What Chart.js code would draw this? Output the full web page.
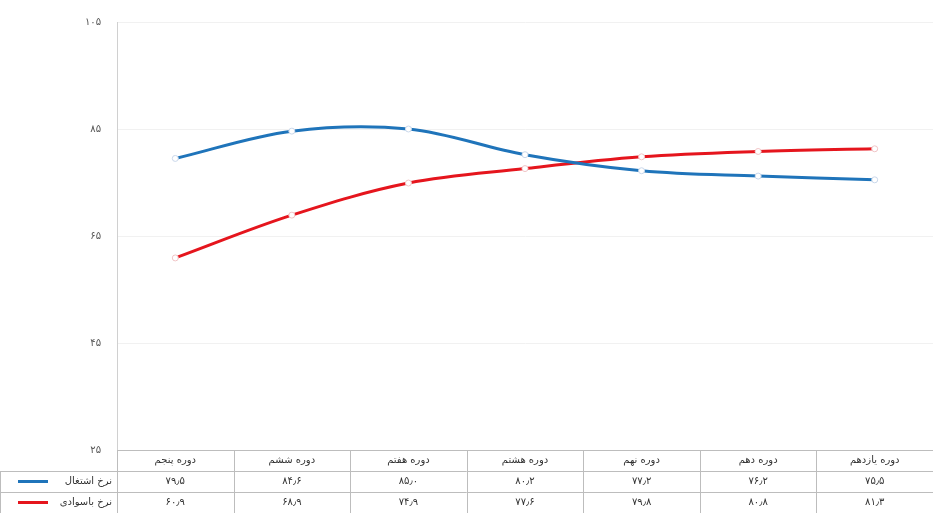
<!DOCTYPE html>
<html lang="fa">
<head>
<meta charset="utf-8">
<title>نرخ اشتغال و نرخ باسوادی</title>
<script src="https://cdn.jsdelivr.net/npm/chart.js@4.4.0/dist/chart.umd.min.js"></script>
<style>
    html, body { margin: 0; padding: 0; background: #ffffff; overflow: hidden; }
    canvas { display: block; }
</style>
</head>
<body>
<canvas id="chart" width="933" height="513"></canvas>
<script>
// Chart data
const periods = ['دوره پنجم', 'دوره ششم', 'دوره هفتم', 'دوره هشتم', 'دوره نهم', 'دوره دهم', 'دوره یازدهم'];
const employmentRate = [79.5, 84.6, 85.0, 80.2, 77.2, 76.2, 75.5];
const literacyRate = [60.9, 68.9, 74.9, 77.6, 79.8, 80.8, 81.3];
const seriesNames = ['نرخ اشتغال', 'نرخ باسوادی'];
const yTicks = [25, 45, 65, 85, 105];

const blue = '#1f74ba';
const red = '#e5151d';
const fontFamily = '"DejaVu Sans", "Noto Sans", sans-serif';

// Persian digits for labels
function toFa(str) {
    const digits = '۰۱۲۳۴۵۶۷۸۹';
    return String(str).replace(/[0-9]/g, d => digits[d]).replace('.', '٫');
}

// Data table drawn under the plot, aligned on the x scale
const dataTable = {
    id: 'dataTable',
    afterDraw(chart) {
        const ctx = chart.ctx;
        const x = chart.scales.x;
        const area = chart.chartArea;
        const top = area.bottom;
        const rowH = 21;
        const step = x.getPixelForValue(1) - x.getPixelForValue(0);

        ctx.save();
        ctx.strokeStyle = '#bdbdbd';
        ctx.lineWidth = 1;

        // horizontal lines
        ctx.beginPath();
        ctx.moveTo(area.left, top + 0.5);
        ctx.lineTo(area.right, top + 0.5);
        for (let r = 1; r <= 3; r++) {
            const y = Math.round(top + rowH * r) + 0.5;
            ctx.moveTo(0, y);
            ctx.lineTo(area.right, y);
        }
        // vertical lines
        const lastY = top + rowH * 3;
        ctx.moveTo(0.5, top + rowH);
        ctx.lineTo(0.5, lastY);
        for (let i = 0; i < periods.length; i++) {
            const edge = Math.round(x.getPixelForValue(i) - step / 2) + 0.5;
            ctx.moveTo(edge, top);
            ctx.lineTo(edge, lastY);
        }
        ctx.stroke();

        // texts
        ctx.font = '10px ' + fontFamily;
        ctx.fillStyle = '#333333';
        ctx.textAlign = 'center';
        ctx.textBaseline = 'middle';
        periods.forEach((p, i) => {
            const cx = x.getPixelForValue(i);
            ctx.fillText(p, cx, top + rowH * 0.5);
            ctx.fillText(toFa(employmentRate[i].toFixed(1)), cx, top + rowH * 1.5);
            ctx.fillText(toFa(literacyRate[i].toFixed(1)), cx, top + rowH * 2.5);
        });

        // legend keys in the first column
        [blue, red].forEach((color, r) => {
            const cy = top + rowH * (r + 1.5);
            ctx.textAlign = 'right';
            ctx.fillStyle = '#333333';
            ctx.fillText(seriesNames[r], area.left - 5, cy);
            ctx.strokeStyle = color;
            ctx.lineWidth = 3;
            ctx.beginPath();
            ctx.moveTo(18, cy);
            ctx.lineTo(48, cy);
            ctx.stroke();
        });
        ctx.restore();
    }
};

const ctx = document.getElementById('chart').getContext('2d');
new Chart(ctx, {
    type: 'line',
    data: {
        labels: periods,
        datasets: [{
            label: seriesNames[0],
            data: employmentRate,
            borderColor: blue,
            backgroundColor: '#ffffff',
            borderWidth: 3,
            tension: 0.35,
            pointRadius: 3,
            pointBorderWidth: 1,
            pointBorderColor: '#c9d7ea',
            pointBackgroundColor: '#ffffff'
        }, {
            label: seriesNames[1],
            data: literacyRate,
            borderColor: red,
            backgroundColor: '#ffffff',
            borderWidth: 3,
            tension: 0.35,
            pointRadius: 3,
            pointBorderWidth: 1,
            pointBorderColor: '#f0c4c6',
            pointBackgroundColor: '#ffffff'
        }]
    },
    options: {
        responsive: false,
        animation: false,
        layout: { autoPadding: false, padding: { top: 20, bottom: 63, right: 0, left: 0 } },
        plugins: {
            legend: { display: false },
            tooltip: { enabled: false }
        },
        scales: {
            x: {
                display: false,
                offset: true
            },
            y: {
                min: 25,
                max: 105,
                afterFit(scale) { scale.width = 117; },
                afterBuildTicks(scale) { scale.ticks = yTicks.map(v => ({ value: v })); },
                ticks: {
                    padding: 16,
                    color: '#555555',
                    font: { family: fontFamily, size: 10 },
                    callback: v => toFa(v)
                },
                grid: {
                    color: '#f1f1f1',
                    drawTicks: false
                },
                border: { color: '#d0d0d0' }
            }
        }
    },
    plugins: [dataTable]
});
</script>
</body>
</html>
